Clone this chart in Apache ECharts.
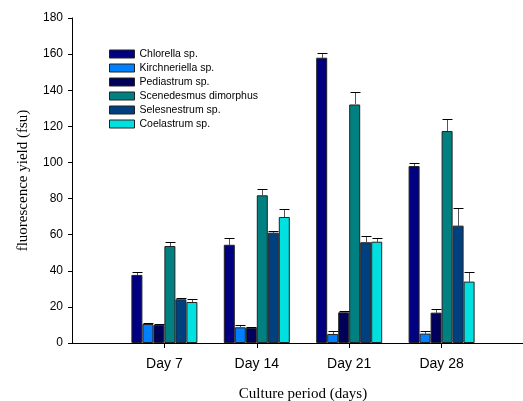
<!DOCTYPE html>
<html>
<head>
<meta charset="utf-8">
<script src="https://cdn.jsdelivr.net/npm/echarts@6/dist/echarts.min.js"></script>
<style>html,body{margin:0;padding:0;background:#fff;}#chart{width:523px;height:401px;}</style>
</head>
<body>
<div id="chart"></div>
<script>
// Categories (padded with empty slots at both ends of the axis)
const categories = ['', 'Day 7', 'Day 14', 'Day 21', 'Day 28', ''];
const seriesNames = ['Chlorella sp.', 'Kirchneriella sp.', 'Pediastrum sp.', 'Scenedesmus dimorphus', 'Selesnestrum sp.', 'Coelastrum sp.'];

const chlorella      = [37.7, 54.4, 158.0, 98.0];
const kirchneriella  = [10.5, 8.7, 5.0, 5.2];
const pediastrum     = [10.0, 8.5, 17.0, 16.8];
const scenedesmus    = [53.7, 81.8, 132.1, 117.4];
const selesnestrum   = [24.2, 61.1, 55.8, 65.0];
const coelastrum     = [22.7, 69.8, 56.1, 34.0];

const chlorellaErr     = [1.4, 3.6, 2.4, 1.5];
const kirchneriellaErr = [0.5, 1.4, 1.5, 1.3];
const pediastrumErr    = [0.4, 0.5, 1.0, 1.8];
const scenedesmusErr   = [2.3, 3.3, 6.7, 6.5];
const selesnestrumErr  = [1.0, 0.8, 3.3, 9.6];
const coelastrumErr    = [1.7, 4.2, 1.9, 5.1];

const yTicks = [0, 20, 40, 60, 80, 100, 120, 140, 160, 180];

const values = [chlorella, kirchneriella, pediastrum, scenedesmus, selesnestrum, coelastrum];
const errors = [chlorellaErr, kirchneriellaErr, pediastrumErr, scenedesmusErr, selesnestrumErr, coelastrumErr];
const colors = ['#000080', '#0080ff', '#00005a', '#008080', '#004080', '#00e0e0'];

const BAR_W = 11;
const pad = arr => [null].concat(arr, [null]);

const series = [];
values.forEach((vals, i) => {
  series.push({
    name: seriesNames[i],
    type: 'bar',
    data: pad(vals),
    barWidth: BAR_W,
    barGap: '0%',
    itemStyle: { color: colors[i], borderColor: '#222', borderWidth: 1 },
    z: 2
  });
});
values.forEach((vals, i) => {
  const offset = (i - 2.5) * BAR_W;
  series.push({
    name: seriesNames[i] + ' err',
    type: 'custom',
    data: vals.map((v, k) => [k + 1, v, v + errors[i][k]]),
    z: 3,
    renderItem: function (params, api) {
      const c = api.value(0);
      const lo = api.coord([c, api.value(1)]);
      const hi = api.coord([c, api.value(2)]);
      const x = Math.round(lo[0] + offset) + 0.5;
      const yl = Math.round(lo[1]);
      const yh = Math.round(hi[1]) + 0.5;
      return {
        type: 'group',
        children: [
          { type: 'line', shape: { x1: x, y1: yl, x2: x, y2: yh }, style: { stroke: '#555', lineWidth: 1 } },
          { type: 'line', shape: { x1: x - 5, y1: yh, x2: x + 5, y2: yh }, style: { stroke: '#000', lineWidth: 1 } }
        ]
      };
    },
    encode: { x: 0, y: [1, 2] }
  });
});

const chart = echarts.init(document.getElementById('chart'), null, { renderer: 'canvas' });
chart.setOption({
  animation: false,
  backgroundColor: '#fff',
  grid: { left: 72, top: 18, height: 325, width: 462, containLabel: false, outerBoundsMode: 'none' },
  legend: {
    data: seriesNames,
    orient: 'vertical',
    left: 109,
    top: 48.5,
    padding: 0,
    itemWidth: 25,
    itemHeight: 8,
    itemGap: 3,
    icon: 'rect',
    textStyle: { fontFamily: 'Liberation Sans, Arial', fontSize: 10.5, color: '#000' },
    itemStyle: { borderColor: '#222', borderWidth: 1 }
  },
  xAxis: {
    type: 'category',
    data: categories,
    boundaryGap: false,
    name: 'Culture period (days)',
    nameLocation: 'middle',
    nameGap: 44,
    nameTextStyle: { fontFamily: 'Liberation Serif, Times New Roman', fontSize: 15, color: '#000' },
    axisLine: { lineStyle: { color: '#000', width: 1 } },
    axisTick: { length: 5, lineStyle: { color: '#000' }, interval: (idx, val) => val !== '' },
    axisLabel: { fontFamily: 'Liberation Sans, Arial', fontSize: 14, color: '#000', margin: 14 },
    splitLine: { show: false }
  },
  yAxis: {
    type: 'value',
    min: 0,
    max: 180,
    interval: 20,
    name: 'fluorescence yield (fsu)',
    nameLocation: 'middle',
    nameGap: 41,
    nameTextStyle: { fontFamily: 'Liberation Serif, Times New Roman', fontSize: 15, color: '#000' },
    axisLine: { show: true, lineStyle: { color: '#000', width: 1 } },
    axisTick: { show: true, length: 4, lineStyle: { color: '#000' } },
    axisLabel: { fontFamily: 'Liberation Sans, Arial', fontSize: 12, color: '#000', margin: 9,
      formatter: v => (yTicks.indexOf(v) >= 0 ? String(v) : '') },
    splitLine: { show: false }
  },
  series: series
});
</script>
</body>
</html>
